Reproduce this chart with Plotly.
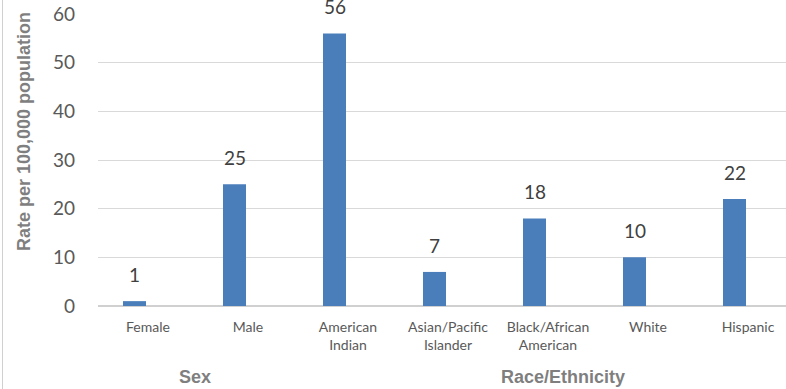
import plotly.graph_objects as go

categories = ["Female", "Male", "American<br>Indian", "Asian/Pacific<br>Islander",
              "Black/African<br>American", "White", "Hispanic"]
values = [1, 25, 56, 7, 18, 10, 22]
y_ticks = [0, 10, 20, 30, 40, 50, 60]
group_labels = ["Sex", "Race/Ethnicity"]

pos = list(range(len(categories)))
bar_offset = -0.135
bar_x = [p + bar_offset for p in pos]

fig = go.Figure()
fig.add_trace(go.Bar(
    x=bar_x, y=values, width=0.23,
    marker=dict(color="#4a7ebb", line=dict(width=0)),
    hoverinfo="skip",
))

for bx, v in zip(bar_x, values):
    fig.add_annotation(x=bx, y=v, text=str(v), showarrow=False,
                       yanchor="bottom", yshift=13,
                       font=dict(family="Lato", size=19, color="#404040"))

fig.add_annotation(xref="paper", yref="paper", x=(195 - 98) / 688, y=(389 - 377 - 83) / 292,
                   text="<b>" + group_labels[0] + "</b>", showarrow=False,
                   xanchor="center", yanchor="middle",
                   font=dict(family="Liberation Sans", size=18, color="#7f7f7f"))
fig.add_annotation(xref="paper", yref="paper", x=(563 - 98) / 688, y=(389 - 377 - 83) / 292,
                   text="<b>" + group_labels[1] + "</b>", showarrow=False,
                   xanchor="center", yanchor="middle",
                   font=dict(family="Liberation Sans", size=18, color="#7f7f7f"))
fig.add_annotation(xref="paper", yref="paper", x=(24 - 98) / 688, y=(306 - 132) / 292,
                   text="<b>Rate per 100,000 population</b>", showarrow=False,
                   textangle=-90, xanchor="center", yanchor="middle",
                   font=dict(family="Liberation Sans", size=18, color="#7f7f7f"))

fig.add_shape(type="line", xref="paper", yref="paper",
              x0=(2.5 - 98) / 688, x1=(2.5 - 98) / 688, y0=-83 / 292, y1=(306) / 292,
              line=dict(color="#d0d0d0", width=1))

fig.update_layout(
    width=786, height=389,
    margin=dict(l=98, r=0, t=14, b=83),
    paper_bgcolor="white", plot_bgcolor="white",
    showlegend=False,
    xaxis=dict(
        range=[-0.5, 6.38], tickmode="array", tickvals=pos, ticktext=categories,
        showgrid=False, zeroline=False, showline=False, ticks="",
        tickfont=dict(family="Lato", size=14, color="#595959"),
        ticklabelstandoff=11, fixedrange=True,
    ),
    yaxis=dict(
        range=[0, 60], tickmode="array", tickvals=y_ticks,
        showgrid=True, gridcolor="#d9d9d9", gridwidth=1,
        zeroline=True, zerolinecolor="#d0d0d0", zerolinewidth=2,
        showline=False, ticks="",
        tickfont=dict(family="Lato", size=19, color="#595959"),
        ticklabelstandoff=22, fixedrange=True,
    ),
)

fig.write_html("out.html")
